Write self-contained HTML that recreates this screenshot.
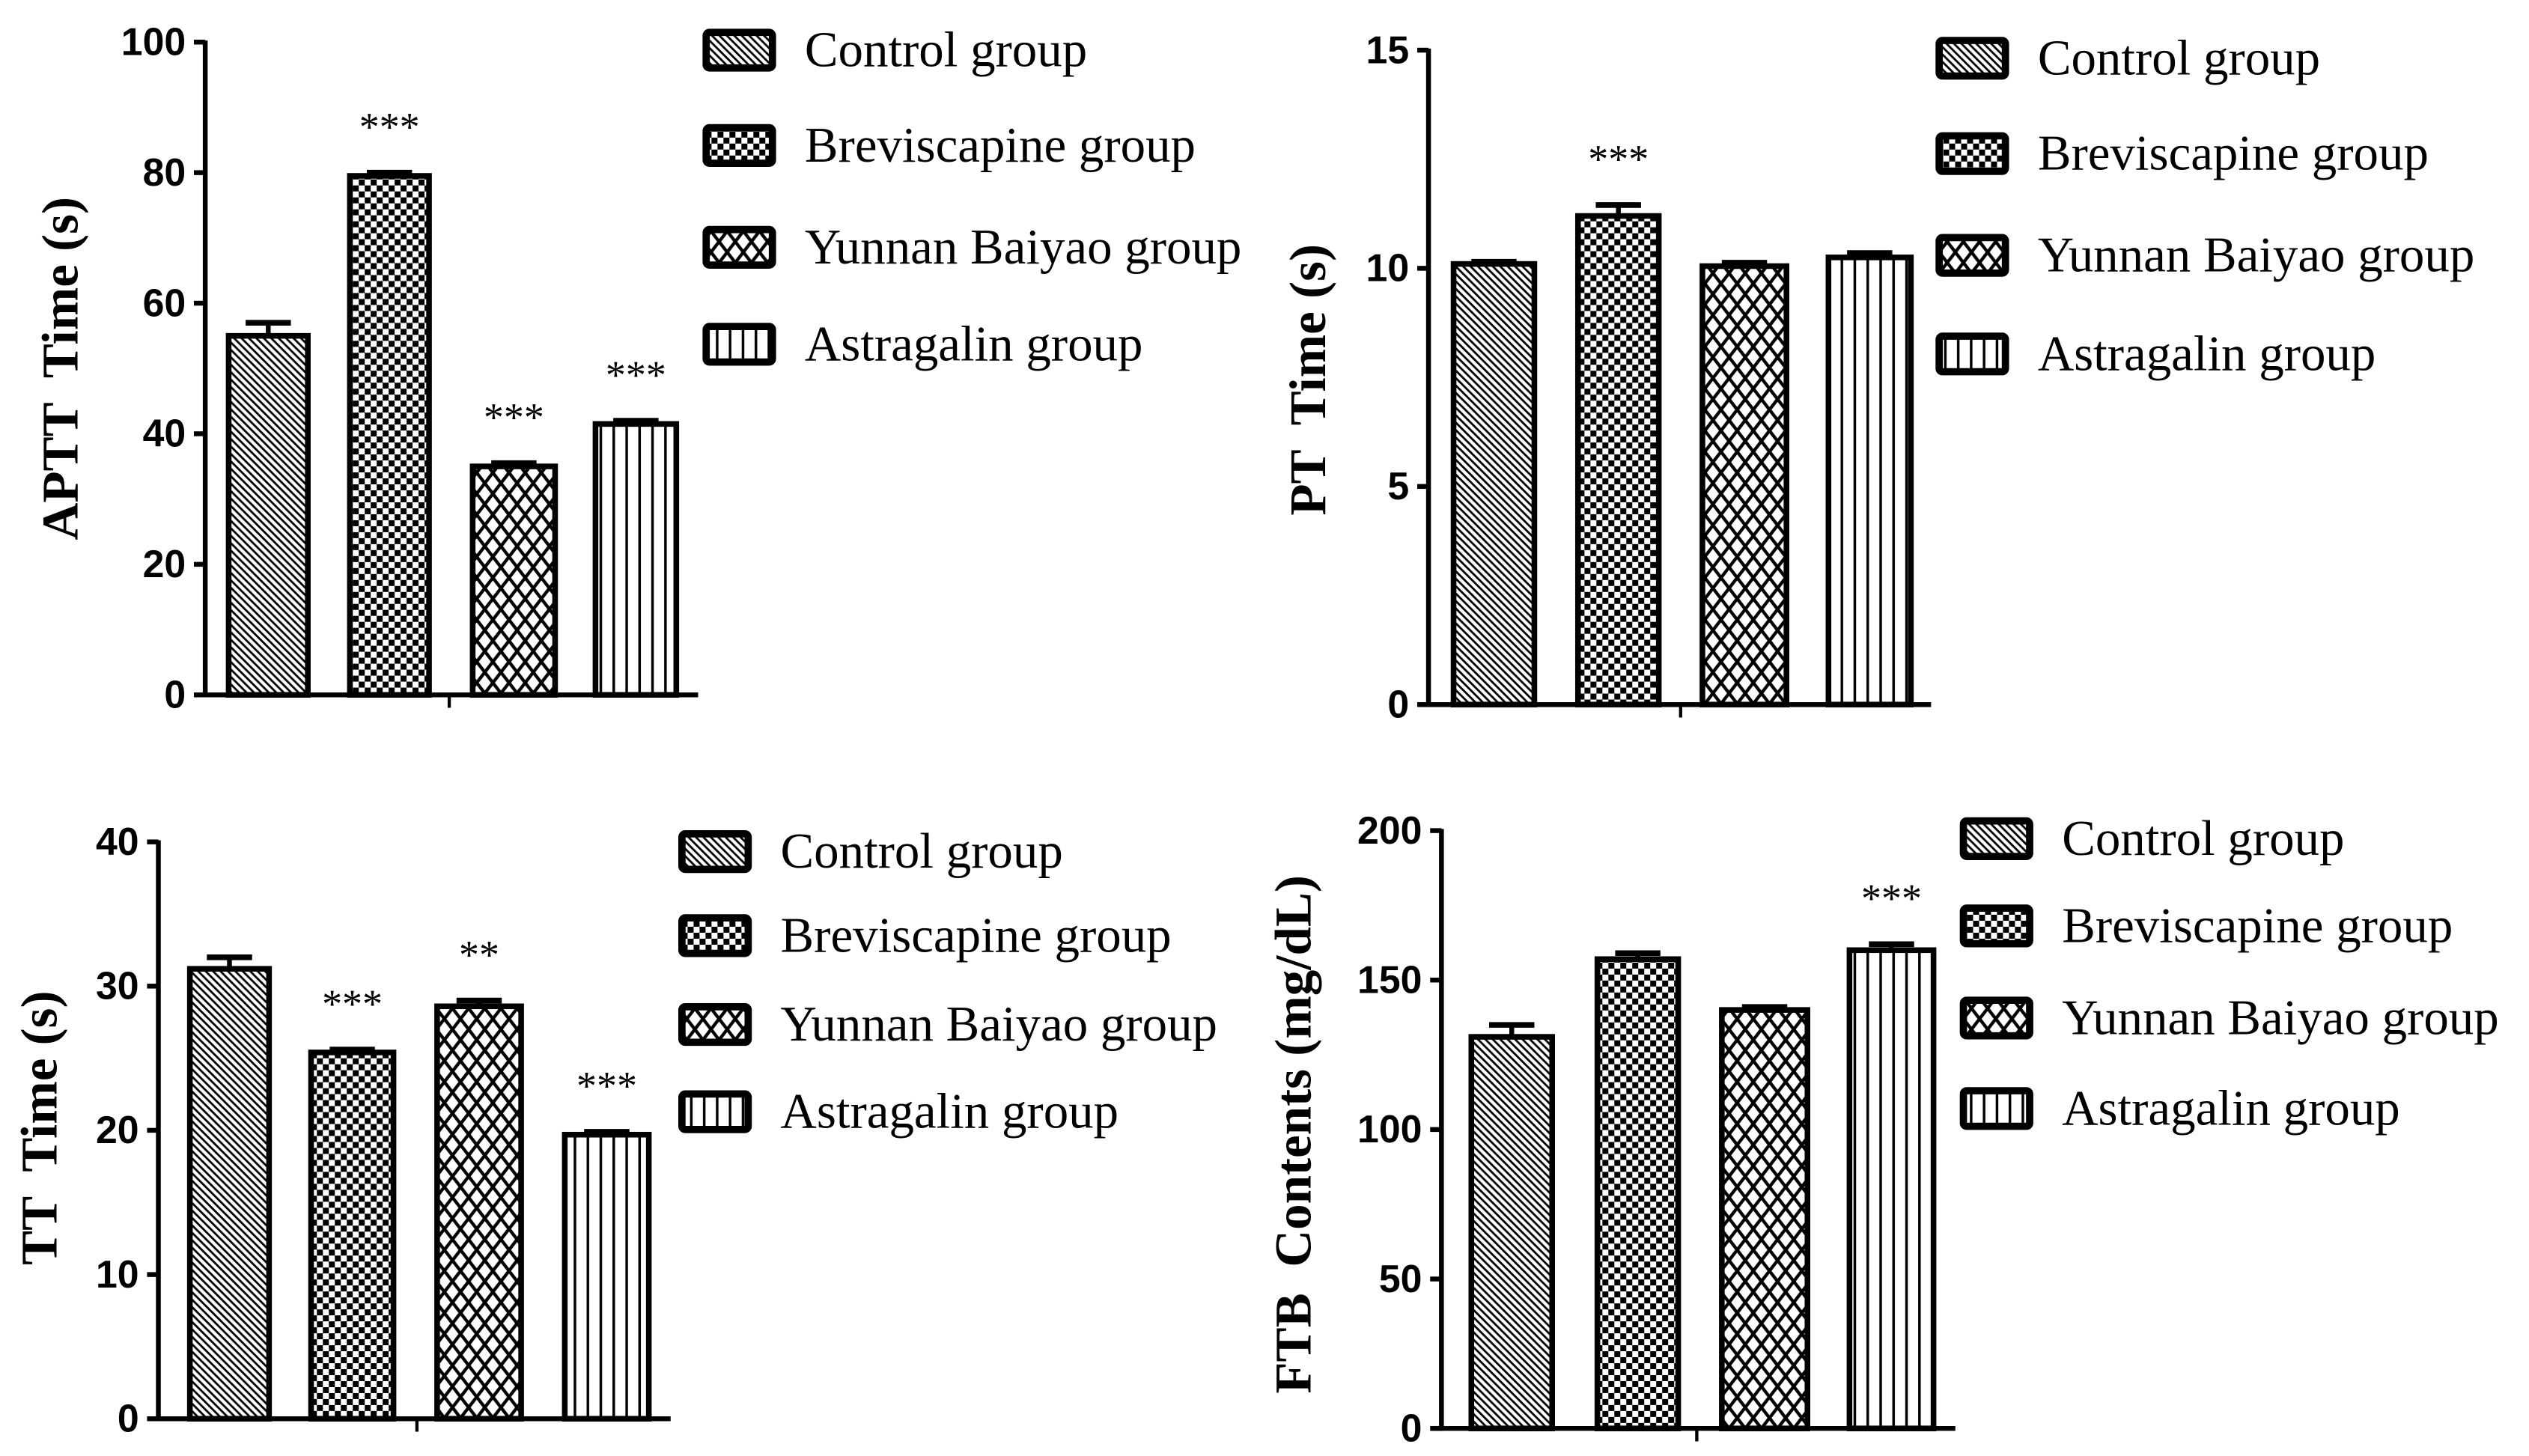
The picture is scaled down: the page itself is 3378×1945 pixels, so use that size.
<!DOCTYPE html>
<html><head><meta charset="utf-8"><style>
html,body{margin:0;padding:0;background:#fff;}
svg{display:block;}
</style></head><body>
<svg id="fig" xmlns="http://www.w3.org/2000/svg" width="3378" height="1945" viewBox="0 0 1565 901">
<defs>
<pattern id="p-diag" patternUnits="userSpaceOnUse" width="4.6" height="4.6"><rect width="4.6" height="4.6" fill="#fff"/><path d="M-1,-1 L5.6,5.6 M-1,3.6 L1,5.6 M3.6,-1 L5.6,1" stroke="#000" stroke-width="1.3"/></pattern>
<pattern id="p-check" patternUnits="userSpaceOnUse" width="7.4" height="7.4"><rect width="7.4" height="7.4" fill="#fff"/><rect width="3.7" height="3.7" fill="#000"/><rect x="3.7" y="3.7" width="3.7" height="3.7" fill="#000"/></pattern>
<pattern id="p-diamond" patternUnits="userSpaceOnUse" width="10" height="13"><rect width="10" height="13" fill="#fff"/><path d="M0,0 L10,13 M10,0 L0,13" stroke="#000" stroke-width="2"/></pattern>
<pattern id="p-vert" patternUnits="userSpaceOnUse" width="8" height="8"><rect width="8" height="8" fill="#fff"/><rect x="3" width="1.6" height="8" fill="#000"/></pattern>
</defs>
<g id="root"></g>
</svg>
<script>
const groups = ["Control group","Breviscapine group","Yunnan Baiyao group","Astragalin group"];
const aptt = [55, 79.5, 35, 41.5];
const apttErr = [2, 0.5, 0.5, 0.5];
const apttSig = ["", "***", "***", "***"];
const apttTicks = [0,20,40,60,80,100];
const pt = [10.1, 11.2, 10.05, 10.25];
const ptErr = [0.05, 0.25, 0.08, 0.1];
const ptSig = ["", "***", "", ""];
const ptTicks = [0,5,10,15];
const tt = [31.2, 25.4, 28.6, 19.7];
const ttErr = [0.8, 0.2, 0.4, 0.2];
const ttSig = ["", "***", "**", "***"];
const ttTicks = [0,10,20,30,40];
const ftb = [131, 157, 140, 160];
const ftbErr = [4, 2, 1, 2];
const ftbSig = ["", "", "", "***"];
const ftbTicks = [0,50,100,150,200];

const NS = "http://www.w3.org/2000/svg";
const root = document.getElementById("root");
const fills = ["url(#p-diag)","url(#p-check)","url(#p-diamond)","url(#p-vert)"];
function mk(tag, attrs, parent){const e=document.createElementNS(NS,tag);for(const k in attrs)e.setAttribute(k,attrs[k]);(parent||root).appendChild(e);return e;}

function panel(cfg){
  const g = mk("g",{});
  
  
  const ymax = cfg.ticks[cfg.ticks.length-1];
  const yS = v => cfg.y0 - (cfg.y0 - cfg.yTop) * v / ymax;
  cfg.vals.forEach((v,i)=>{
    const x1 = cfg.bx[i][0], x2 = cfg.bx[i][1];
    const top = yS(v), et = yS(v + cfg.err[i]);
    const cx = (x1+x2)/2;
    const eb = mk("g",{},g);
    
    
    mk("line",{x1:cx,x2:cx,y1:top,y2:et,stroke:"#000","stroke-width":3},eb);
    mk("line",{x1:cx-14,x2:cx+14,y1:et,y2:et,stroke:"#000","stroke-width":3.5},eb);
    const r = mk("rect",{x:x1+1.5,y:top,width:x2-x1-3,height:cfg.y0-top,fill:fills[i],stroke:"#000","stroke-width":3.5},g);
    
    
    if(cfg.sig[i]){
      const s = mk("text",{x:cx,y:et-20,"text-anchor":"middle","font-family":"Liberation Serif, serif","font-size":25},g);
      s.textContent = cfg.sig[i];
      
      
    }
  });
  const ax = mk("g",{},g);
  
  
  mk("line",{x1:cfg.ax,x2:cfg.ax,y1:cfg.yTop-1,y2:cfg.y0+1.5,stroke:"#000","stroke-width":3},ax);
  cfg.ticks.forEach(t=>{
    const y = yS(t);
    mk("line",{x1:cfg.ax-7,x2:cfg.ax,y1:y,y2:y,stroke:"#000","stroke-width":3},ax);
    const tx = mk("text",{x:cfg.ax-12,y:y+8,"text-anchor":"end","font-family":"Liberation Sans, sans-serif","font-weight":"bold","font-size":24},ax);
    tx.textContent = t;
    
    
  });
  const xa = mk("line",{x1:cfg.ax-5,x2:cfg.xEnd,y1:cfg.y0,y2:cfg.y0,stroke:"#000","stroke-width":3},g);
  
  
  mk("line",{x1:cfg.midTick,x2:cfg.midTick,y1:cfg.y0,y2:cfg.y0+8,stroke:"#000","stroke-width":2},g);
  const yt = mk("text",{x:0,y:0,"text-anchor":"middle","font-family":"Liberation Serif, serif","font-weight":"bold","font-size":32,style:"white-space:pre",transform:`translate(${cfg.titleX},${cfg.titleY}) rotate(-90)`},g);
  yt.textContent = cfg.title;
  
  
  groups.forEach((gname,i)=>{
    const le = mk("g",{},g);
    
    
    const ly = cfg.legY[i];
    mk("rect",{x:cfg.legX+2,y:ly-11,width:41,height:22,rx:2,fill:fills[i],stroke:"#000","stroke-width":4.5},le);
    const t = mk("text",{x:cfg.legX+63,y:ly+10,"font-family":"Liberation Serif, serif","font-size":31},le);
    t.textContent = gname;
  });
}

panel({name:"aptt",vals:aptt,err:apttErr,sig:apttSig,ticks:apttTicks,ax:127,yTop:26,y0:430,xEnd:432,midTick:278,
  bx:[[140,192],[215,267],[291,345],[367,420]],title:"APTT  Time (s)",titleX:48,titleY:228,legX:435,legY:[31,90,153,213]});
panel({name:"pt",vals:pt,err:ptErr,sig:ptSig,ticks:ptTicks,ax:884,yTop:31,y0:436,xEnd:1195,midTick:1040,
  bx:[[898,951],[975,1028],[1052,1107],[1130,1184]],title:"PT  Time (s)",titleX:820,titleY:235,legX:1198,legY:[36,95,158,219]});
panel({name:"tt",vals:tt,err:ttErr,sig:ttSig,ticks:ttTicks,ax:98,yTop:521,y0:878,xEnd:415,midTick:258,
  bx:[[116,168],[191,245],[269,324],[348,403]],title:"TT  Time (s)",titleX:35,titleY:698,legX:420,legY:[527,579,634,688]});
panel({name:"ftb",vals:ftb,err:ftbErr,sig:ftbSig,ticks:ftbTicks,ax:892,yTop:514,y0:884,xEnd:1210,midTick:1050,
  bx:[[909,962],[987,1040],[1064,1120],[1143,1198]],title:"FTB  Contents (mg/dL)",titleX:811,titleY:702,legX:1213,legY:[519,573,630,686]});
</script>
</body></html>
